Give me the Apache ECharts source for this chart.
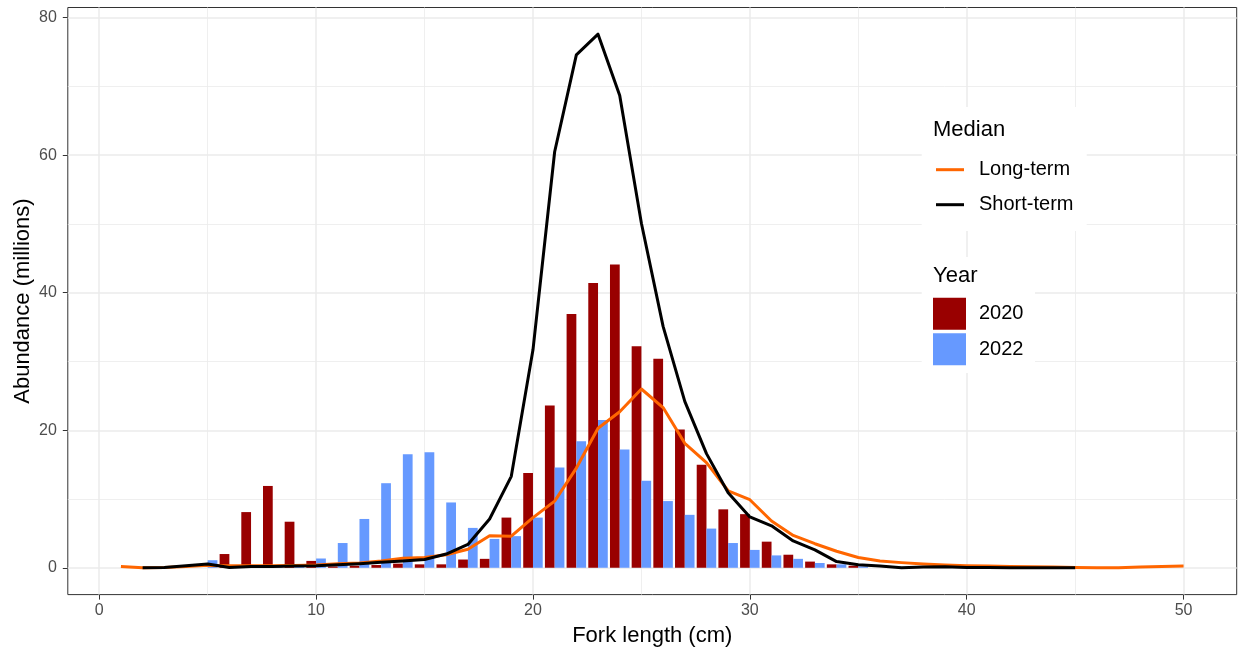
<!DOCTYPE html>
<html>
<head>
<meta charset="utf-8">
<script src="https://cdn.jsdelivr.net/npm/echarts@6/dist/echarts.min.js"></script>
<style>
  html, body { margin: 0; padding: 0; background: #fff; }
  #chart { width: 1238px; height: 649px; }
</style>
</head>
<body>
<div id="chart"></div>
<script>
// fork length classes (cm) for the bars
const barLengths = [5, 6, 7, 8, 9, 10, 11, 12, 13, 14, 15, 16, 17, 18, 19, 20,
  21, 22, 23, 24, 25, 26, 27, 28, 29, 30, 31, 32, 33, 34, 35];
const abund2020 = [0, 2.0, 8.1, 11.9, 6.7, 1.0, 0.2, 0.3, 0.4, 0.6, 0.5, 0.5, 1.2, 1.3, 7.3, 13.8,
  23.6, 36.9, 41.4, 44.1, 32.2, 30.4, 20.1, 15.0, 8.5, 7.8, 3.8, 1.9, 0.9, 0.5, 0.3];
const abund2022 = [1.1, 0.1, 0.1, 0.1, 0.2, 1.35, 3.6, 7.1, 12.3, 16.5, 16.8, 9.5, 5.8, 4.2, 4.6, 7.3,
  14.6, 18.4, 21.5, 17.2, 12.65, 9.7, 7.7, 5.7, 3.6, 2.6, 1.8, 1.3, 0.7, 0.5, 0.2];

// long-term median, 1..50 cm
const longLengths = [1, 2, 3, 4, 5, 6, 7, 8, 9, 10, 11, 12, 13, 14, 15, 16, 17, 18, 19, 20,
  21, 22, 23, 24, 25, 26, 27, 28, 29, 30, 31, 32, 33, 34, 35, 36, 37, 38, 39, 40,
  41, 42, 43, 44, 45, 46, 47, 48, 49, 50];
const longTerm = [0.2, 0.0, 0.05, 0.2, 0.35, 0.3, 0.3, 0.3, 0.35, 0.4, 0.6, 0.7, 1.0, 1.4, 1.5, 1.9, 2.7, 4.65, 4.6, 7.3,
  9.7, 14.5, 20.3, 22.7, 26.0, 23.3, 18.1, 15.3, 11.2, 9.9, 6.8, 4.7, 3.5, 2.4, 1.5, 1.0, 0.75, 0.55, 0.4, 0.3,
  0.25, 0.2, 0.15, 0.1, 0.05, 0.0, 0.0, 0.1, 0.2, 0.25];

// short-term median, 2..45 cm
const shortLengths = [2, 3, 4, 5, 6, 7, 8, 9, 10, 11, 12, 13, 14, 15, 16, 17, 18, 19, 20,
  21, 22, 23, 24, 25, 26, 27, 28, 29, 30, 31, 32, 33, 34, 35, 36, 37, 38, 39, 40,
  41, 42, 43, 44, 45];
const shortTerm = [0, 0.05, 0.3, 0.55, 0.05, 0.2, 0.2, 0.25, 0.3, 0.45, 0.6, 0.8, 1.0, 1.2, 2.0, 3.4, 7.1, 13.3, 31.7,
  60.5, 74.6, 77.6, 68.7, 50.1, 35.1, 24.2, 16.6, 10.9, 7.4, 6.1, 3.9, 2.6, 0.9, 0.45, 0.25, 0.0, 0.1, 0.15, 0.05,
  0.05, 0.0, 0.0, 0.0, 0.0];

const xTicks = [0, 10, 20, 30, 40, 50];
const xMinor = [5, 15, 25, 35, 45];
const yTicks = [0, 20, 40, 60, 80];
const yMinor = [10, 30, 50, 70];

const FONT = '"Liberation Sans", Arial, sans-serif';
const LINE_KEY = 'path://M0,0H28V3H0Z';
const zip = (xs, ys) => xs.map((x, i) => [x, ys[i]]);

const gridLines = [
  ...xTicks.map(v => ({ xAxis: v, lineStyle: { width: 1.5 } })),
  ...xMinor.map(v => ({ xAxis: v, lineStyle: { width: 0.8 } })),
  ...yTicks.map(v => ({ yAxis: v, lineStyle: { width: 1.5 } })),
  ...yMinor.map(v => ({ yAxis: v, lineStyle: { width: 0.8 } }))
];

let myChart = echarts.init(document.getElementById('chart'));
myChart.setOption({
  animation: false,
  textStyle: { fontFamily: FONT },
  grid: {
    left: 67.8, right: 1.3, top: 7.5, bottom: 54.4,
    outerBoundsMode: 'none', containLabel: false,
    show: true, backgroundColor: '#fff', borderColor: '#333333', borderWidth: 1
  },
  xAxis: {
    type: 'value', min: -1.45, max: 52.45,
    name: 'Fork length (cm)', nameLocation: 'middle', nameGap: 30, nameMoveOverlap: false,
    nameTextStyle: { fontSize: 22, color: '#000', fontFamily: FONT },
    axisLine: { show: false, onZero: false },
    axisTick: { show: true, length: 5, lineStyle: { color: '#333333', width: 1 }, customValues: xTicks },
    axisLabel: { customValues: xTicks, fontSize: 16, color: '#4d4d4d', margin: 8, fontFamily: FONT },
    splitLine: { show: false }
  },
  yAxis: {
    type: 'value', min: -3.9, max: 81.48,
    name: 'Abundance (millions)', nameLocation: 'middle', nameGap: 34, nameRotate: 90, nameMoveOverlap: false,
    nameTextStyle: { fontSize: 22, color: '#000', fontFamily: FONT },
    axisLine: { show: false, onZero: false },
    axisTick: { show: true, length: 5, lineStyle: { color: '#333333', width: 1 }, customValues: yTicks },
    axisLabel: { customValues: yTicks, fontSize: 16, color: '#4d4d4d', margin: 11, fontFamily: FONT },
    splitLine: { show: false }
  },
  legend: [
    {
      data: [{ name: 'Long-term', icon: LINE_KEY }, { name: 'Short-term', icon: LINE_KEY }],
      orient: 'vertical', left: 931, top: 154.7,
      itemWidth: 28, itemHeight: 24, itemGap: 15,
      selectedMode: false, z: 20,
      textStyle: { fontSize: 20, color: '#000', fontFamily: FONT, padding: [0, 0, 0, 10] }
    },
    {
      data: [{ name: '2020', icon: 'rect' }, { name: '2022', icon: 'rect' }],
      orient: 'vertical', left: 928, top: 292.7,
      itemWidth: 33, itemHeight: 32, itemGap: 3.5,
      selectedMode: false, z: 20,
      textStyle: { fontSize: 20, color: '#000', fontFamily: FONT, padding: [0, 0, 0, 8] }
    }
  ],
  graphic: [
    { type: 'rect', z: 10, shape: { x: 921.7, y: 107, width: 165, height: 124 }, style: { fill: '#fff' } },
    { type: 'rect', z: 10, shape: { x: 921.7, y: 257, width: 113.3, height: 116 }, style: { fill: '#fff' } },
    { type: 'text', z: 15, left: 933, top: 119, style: { text: 'Median', fontSize: 22, fontFamily: FONT, fill: '#000' } },
    { type: 'text', z: 15, left: 933, top: 264.5, style: { text: 'Year', fontSize: 22, fontFamily: FONT, fill: '#000' } }
  ],
  series: [
    {
      name: 'grid', type: 'line', data: [],
      markLine: {
        silent: true, z: 1, animation: false,
        symbol: ['none', 'none'],
        label: { show: false },
        emphasis: { disabled: true },
        lineStyle: { type: 'solid', color: '#ebebeb' },
        data: gridLines
      }
    },
    {
      name: '2020', type: 'bar', data: zip(barLengths, abund2020),
      barWidth: 9.75, barGap: '0%',
      itemStyle: { color: '#990000' }
    },
    {
      name: '2022', type: 'bar', data: zip(barLengths, abund2022),
      barWidth: 9.75, barGap: '0%',
      itemStyle: { color: '#6699ff' }
    },
    {
      name: 'Long-term', type: 'line', data: zip(longLengths, longTerm),
      symbol: 'none', showSymbol: false, z: 3,
      lineStyle: { color: '#ff6600', width: 3, join: 'round' },
      itemStyle: { color: '#ff6600' }
    },
    {
      name: 'Short-term', type: 'line', data: zip(shortLengths, shortTerm),
      symbol: 'none', showSymbol: false, z: 4,
      lineStyle: { color: '#000', width: 3, join: 'round' },
      itemStyle: { color: '#000' }
    }
  ]
});
</script>
</body>
</html>
